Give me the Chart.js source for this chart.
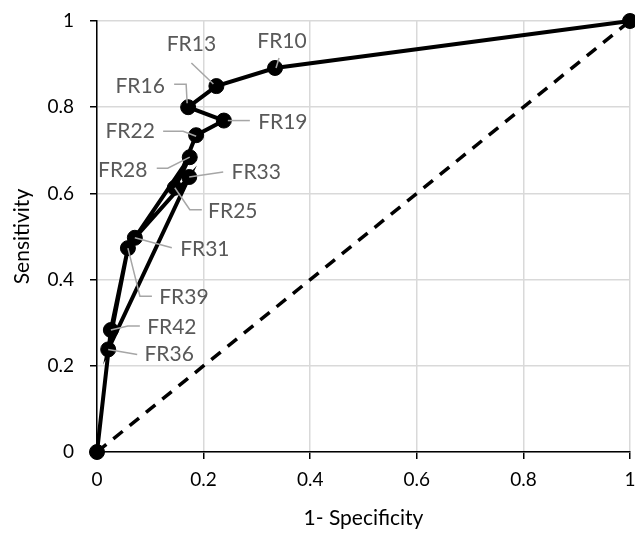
<!DOCTYPE html>
<html>
<head>
<meta charset="utf-8">
<script src="https://cdn.jsdelivr.net/npm/chart.js@4/dist/chart.umd.min.js"></script>
<style>
  html, body { margin: 0; padding: 0; background: #ffffff; }
  #wrap { width: 635px; height: 533px; position: relative; }
</style>
</head>
<body>
<div id="wrap"><canvas id="c" width="635" height="533"></canvas></div>
<script>
// ---- data ----
const pointNames = ['', 'FR10', 'FR13', 'FR16', 'FR19', 'FR22', 'FR25', 'FR28', 'FR31', 'FR33', 'FR36', 'FR39', 'FR42', ''];
const fpr = [1, 0.334, 0.224, 0.171, 0.238, 0.186, 0.146, 0.174, 0.071, 0.173, 0.021, 0.058, 0.026, 0];
const tpr = [1, 0.891, 0.849, 0.800, 0.769, 0.735, 0.613, 0.684, 0.497, 0.638, 0.238, 0.473, 0.283, 0];
const refX = [0, 1];
const refY = [0, 1];
const xTickValues = [0, 0.2, 0.4, 0.6, 0.8, 1];
const xTickLabels = ['0', '0.2', '0.4', '0.6', '0.8', '1'];
const yTickValues = [0, 0.2, 0.4, 0.6, 0.8, 1];
const yTickLabels = ['0', '0.2', '0.4', '0.6', '0.8', '1'];
const xTitle = '1- Specificity';
const yTitle = 'Sensitivity';

// ---- label placement (pixel offsets from each marker) ----
const labelLayout = {
  FR10: { text: [7, -27],  leader: [[4, -10], [1, 0]] },
  FR13: { text: [-25, -42], leader: [[-25, -23], [-3, -2]] },
  FR16: { text: [-48, -21], leader: [[-14, -23], [-2, -23], [-1, -4]] },
  FR19: { text: [59, 2],   leader: [[4, 0], [26, 0]] },
  FR22: { text: [-66, -4], leader: [[-33, -4], [-13, -4], [0, 1]] },
  FR25: { text: [58, 23],  leader: [[0, 0], [15, 22], [27, 22]] },
  FR28: { text: [-67, 13], leader: [[-33, 11], [-22, 11], [0, 0]] },
  FR31: { text: [70, 11],  leader: [[0, 0], [37, 10]] },
  FR33: { text: [67, -5],  leader: [[0, 0], [34, -5]] },
  FR36: { text: [61, 5],   leader: [[0, 0], [29, 5]] },
  FR39: { text: [56, 49],  leader: [[0, 0], [12, 48], [24, 48]] },
  FR42: { text: [61, -3],  leader: [[0, 0], [17, -4], [29, -4]] }
};

const FONT = 'Lato, "Open Sans", sans-serif';

const labelPlugin = {
  id: 'rocLabels',
  afterDatasetsDraw(chart) {
    const meta = chart.getDatasetMeta(0);
    const ctx = chart.ctx;
    ctx.save();
    meta.data.forEach((pt, i) => {
      const name = pointNames[i];
      const lay = labelLayout[name];
      if (!name || !lay) return;
      ctx.strokeStyle = '#a6a6a6';
      ctx.lineWidth = 1.5;
      ctx.beginPath();
      lay.leader.forEach(([dx, dy], k) => {
        if (k === 0) ctx.moveTo(pt.x + dx, pt.y + dy);
        else ctx.lineTo(pt.x + dx, pt.y + dy);
      });
      ctx.stroke();
      ctx.fillStyle = '#595959';
      ctx.font = '21px ' + FONT;
      ctx.textAlign = 'center';
      ctx.textBaseline = 'middle';
      ctx.fillText(name, pt.x + lay.text[0], pt.y + lay.text[1]);
    });
    ctx.restore();
  }
};

const rocData = fpr.map((x, i) => ({ x: x, y: tpr[i] }));
const refData = refX.map((x, i) => ({ x: x, y: refY[i] }));

function zeroPad(s) { s.paddingTop = 0; s.paddingBottom = 0; s.paddingLeft = 0; s.paddingRight = 0; }

new Chart(document.getElementById('c'), {
  type: 'scatter',
  data: {
    datasets: [
      {
        label: 'ROC',
        data: rocData,
        showLine: true,
        borderColor: '#000000',
        backgroundColor: '#000000',
        borderWidth: 4,
        pointRadius: 7.5,
        pointBorderWidth: 1,
        pointBackgroundColor: '#000000',
        pointBorderColor: '#000000',
        clip: false,
        order: 1
      },
      {
        label: 'Reference',
        data: refData,
        showLine: true,
        borderColor: '#000000',
        borderWidth: 3.5,
        borderDash: [12, 9],
        pointRadius: 0,
        clip: false,
        order: 2
      }
    ]
  },
  options: {
    responsive: false,
    animation: false,
    layout: { autoPadding: false, padding: { top: 21, right: 5, left: 0, bottom: 0 } },
    plugins: {
      legend: { display: false },
      tooltip: { enabled: false }
    },
    scales: {
      x: {
        type: 'linear',
        min: 0, max: 1,
        afterBuildTicks: (s) => { s.ticks = xTickValues.map(v => ({ value: v })); },
        afterFit: (s) => { s.height = 81; zeroPad(s); },
        ticks: {
          color: '#000000',
          font: { family: FONT, size: 19 },
          padding: 9,
          maxRotation: 0,
          callback: (v) => xTickLabels[xTickValues.indexOf(Math.round(v * 10) / 10)]
        },
        grid: { color: '#d9d9d9', lineWidth: 1.5, tickColor: '#000000', tickLength: 7, tickWidth: 1.5 },
        border: { color: '#000000', width: 1.5 },
        title: { display: true, text: xTitle, color: '#000000', font: { family: FONT, size: 21 }, padding: { top: 2, bottom: 2 } }
      },
      y: {
        type: 'linear',
        min: 0, max: 1,
        afterBuildTicks: (s) => { s.ticks = yTickValues.map(v => ({ value: v })); },
        afterFit: (s) => { s.width = 97; zeroPad(s); },
        ticks: {
          color: '#000000',
          font: { family: FONT, size: 19 },
          padding: 16,
          callback: (v) => yTickLabels[yTickValues.indexOf(Math.round(v * 10) / 10)]
        },
        grid: { color: '#d9d9d9', lineWidth: 1.5, tickColor: '#000000', tickLength: 7, tickWidth: 1.5 },
        border: { color: '#000000', width: 1.5 },
        title: { display: true, text: yTitle, color: '#000000', font: { family: FONT, size: 21 }, padding: { top: 10, bottom: 2 } }
      }
    }
  },
  plugins: [labelPlugin]
});
</script>
</body>
</html>
